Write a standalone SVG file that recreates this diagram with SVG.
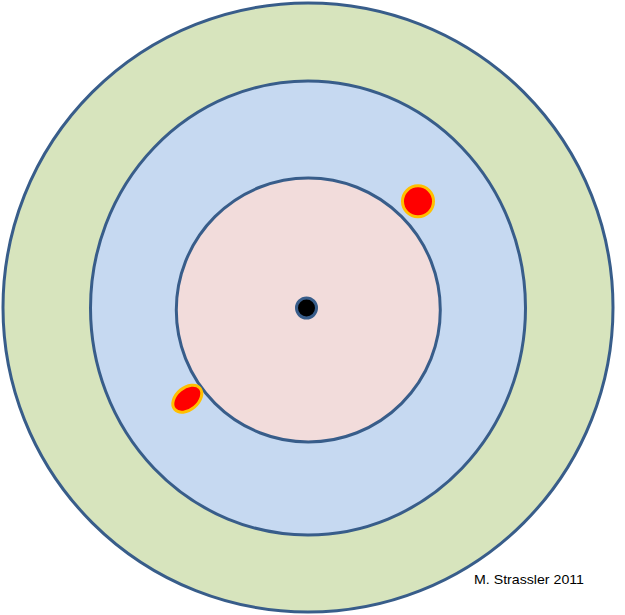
<svg xmlns="http://www.w3.org/2000/svg" width="625" height="615" viewBox="0 0 625 615">
  <style>
    .ring { stroke: #385d8a; stroke-width: 3; }
    .blob { fill: #ff0000; stroke: #ffc000; stroke-width: 3; }
    .label { font-family: "Liberation Sans", Arial, sans-serif; font-size: 13.5px; fill: #000000; }
  </style>
  <rect width="625" height="615" fill="#ffffff"/>
  <g id="outer-ring">
    <ellipse class="ring" cx="308" cy="307.5" rx="305" ry="304.5" fill="#d7e4bd"/>
  </g>
  <g id="middle-ring">
    <ellipse class="ring" cx="308" cy="308" rx="217.5" ry="227" fill="#c6d9f1"/>
  </g>
  <g id="inner-ring">
    <ellipse class="ring" cx="308.3" cy="310" rx="132" ry="132" fill="#f2dcdb"/>
  </g>
  <g id="nucleus">
    <circle class="ring" cx="306.5" cy="308" r="10" fill="#000000"/>
  </g>
  <g id="particle-top">
    <circle class="blob" cx="418" cy="201.3" r="15.5"/>
  </g>
  <g id="particle-bottom">
    <ellipse class="blob" cx="187.3" cy="398.7" rx="16.5" ry="11" transform="rotate(-40 187.3 398.7)"/>
  </g>
  <g id="credit">
    <text class="label" x="474" y="584" textLength="110" lengthAdjust="spacingAndGlyphs">M. Strassler 2011</text>
  </g>
</svg>
